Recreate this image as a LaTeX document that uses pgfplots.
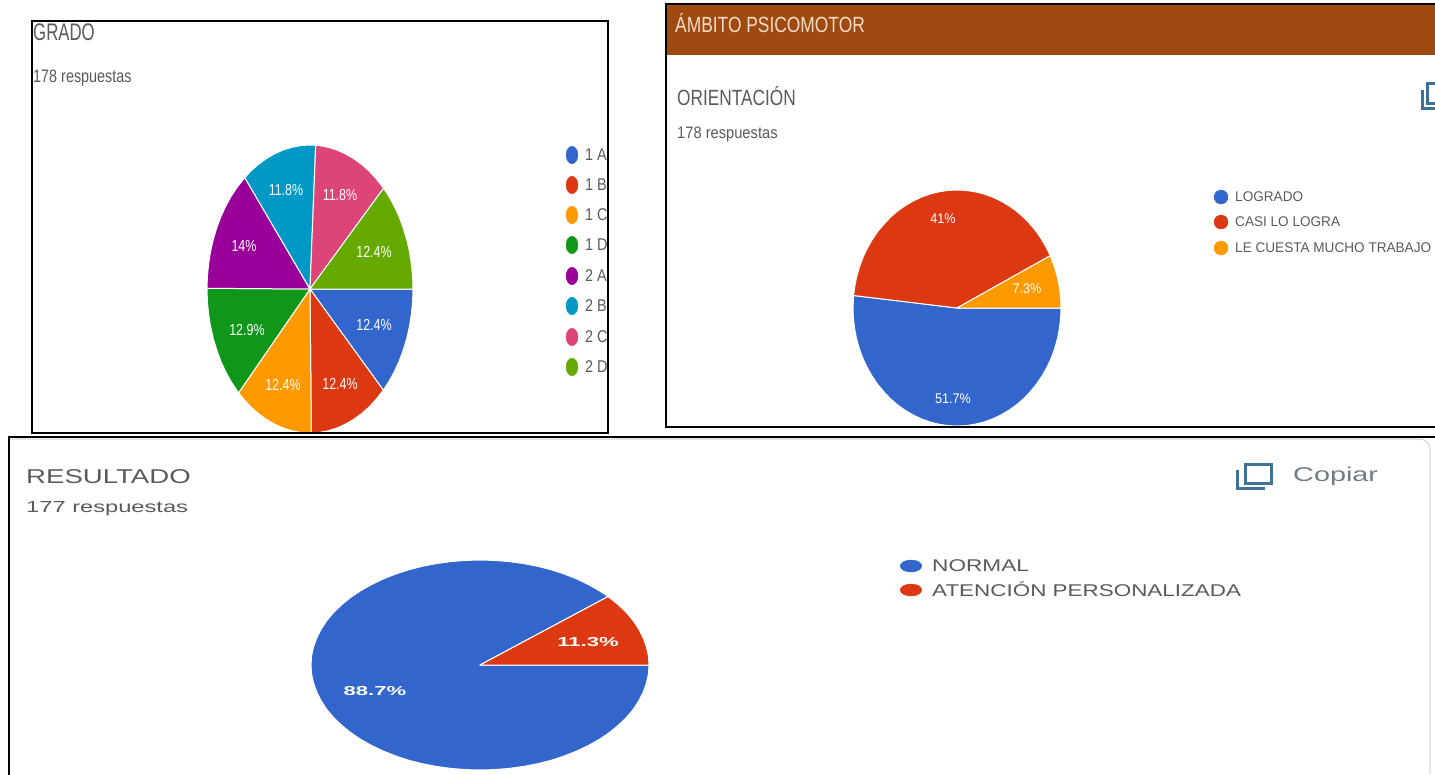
\documentclass[border=0pt]{standalone}
\usepackage{pgfplots}
\pgfplotsset{compat=1.18}
\usepackage{fontspec}
\setmainfont{Liberation Sans}
\definecolor{gblue}{HTML}{3366CC}
\definecolor{gred}{HTML}{DC3912}
\definecolor{gorange}{HTML}{FF9900}
\definecolor{ggreen}{HTML}{109618}
\definecolor{gpurple}{HTML}{990099}
\definecolor{gcyan}{HTML}{0099C6}
\definecolor{gpink}{HTML}{DD4477}
\definecolor{glime}{HTML}{66AA00}
\definecolor{hdr}{HTML}{9E4A10}
\definecolor{hdrtxt}{HTML}{F6DCC6}
\definecolor{gtxt}{HTML}{5A5A5A}
\definecolor{icon}{HTML}{3F7196}
% \lab{x}{y}{size}{xscale}{colour}{text}  left anchored
\newcommand{\lab}[6]{\node[anchor=west,inner sep=0pt,text=#5] at (axis cs:#1,#2) {\fontsize{#3}{#3}\selectfont\scalebox{#4}[1]{#6}};}
% centred
\newcommand{\cen}[6]{\node[anchor=center,inner sep=0pt,text=#5] at (axis cs:#1,#2) {\fontsize{#3}{#3}\selectfont\scalebox{#4}[1]{#6}};}
\begin{document}
\begin{tikzpicture}
\begin{axis}[
  name=ax,
  scale only axis, width=1435pt, height=774pt,
  xmin=0, xmax=1435, ymin=0, ymax=774, y dir=reverse,
  hide axis, clip=true]
\pgfplotsset{every axis plot/.append style={line join=round}}
\tikzset{slice/.style={draw=white,line width=1pt}}
% --- header of the second panel
\addplot[fill=hdr,draw=none] coordinates {(666,5)(1435,5)(1435,55)(666,55)} --cycle;

% --- GRADO pie (178 respuestas)
\addplot[slice,fill=gblue] coordinates {(310,289)(413,289)(412.6,301.6)(411.4,314)(409.5,326.3)(406.8,338.2)(403.3,349.9)(399.2,361)(394.4,371.6)(388.9,381.6)(383.3,390.1)} --cycle;
\addplot[slice,fill=gred] coordinates {(310,289)(383.3,390.1)(376.2,399.3)(369.1,407)(361.5,413.7)(353.5,419.5)(345.2,424.3)(336.7,428.1)(327.9,430.8)(319,432.5)(311.3,433)} --cycle;
\addplot[slice,fill=gorange] coordinates {(310,289)(311.3,433)(301,432.5)(292.1,430.8)(283.3,428.1)(274.8,424.3)(266.5,419.5)(258.5,413.7)(250.9,407)(243.8,399.3)(238.6,392.8)} --cycle;
\addplot[slice,fill=ggreen] coordinates {(310,289)(238.6,392.8)(231.1,381.6)(225.6,371.6)(220.8,361)(216.7,349.9)(213.2,338.2)(210.5,326.3)(208.6,314)(207.4,301.6)(207,289)(207,288.3)} --cycle;
\addplot[slice,fill=gpurple] coordinates {(310,289)(207,288.3)(207.4,276.4)(208.6,264)(210.5,251.7)(213.2,239.8)(216.7,228.1)(220.8,217)(225.6,206.4)(231.1,196.4)(237.2,187.2)(244.8,177.6)} --cycle;
\addplot[slice,fill=gcyan] coordinates {(310,289)(244.8,177.6)(250.9,171)(258.5,164.3)(266.5,158.5)(274.8,153.7)(283.3,149.9)(292.1,147.2)(301,145.5)(310,145)(315.7,145.2)} --cycle;
\addplot[slice,fill=gpink] coordinates {(310,289)(315.7,145.2)(319,145.5)(327.9,147.2)(336.7,149.9)(345.2,153.7)(353.5,158.5)(361.5,164.3)(369.1,171)(376.2,178.7)(383.6,188.2)} --cycle;
\addplot[slice,fill=glime] coordinates {(310,289)(383.6,188.2)(388.9,196.4)(394.4,206.4)(399.2,217)(403.3,228.1)(406.8,239.8)(409.5,251.7)(411.4,264)(412.6,276.4)(413,289)} --cycle;

% --- ORIENTACION pie
\addplot[slice,fill=gblue] coordinates {(957,308)(1061,308)(1060.6,318.3)(1059.4,328.5)(1057.5,338.5)(1054.7,348.4)(1051.3,357.9)(1047.1,367)(1042.2,375.7)(1036.7,383.9)(1030.5,391.4)(1023.9,398.4)(1016.7,404.7)(1009,410.2)(1001,414.9)(992.6,418.9)(983.9,422)(975.1,424.2)(966.1,425.6)(957,426)(947.9,425.6)(938.9,424.2)(930.1,422)(921.4,418.9)(913,414.9)(905,410.2)(897.3,404.7)(890.1,398.4)(883.5,391.4)(877.3,383.9)(871.8,375.7)(866.9,367)(862.7,357.9)(859.3,348.4)(856.5,338.5)(854.6,328.5)(853.4,318.3)(853,308)(853.6,295.5)} --cycle;
\addplot[slice,fill=gred] coordinates {(957,308)(853.6,295.5)(854.6,287.5)(856.5,277.5)(859.3,267.6)(862.7,258.1)(866.9,249)(871.8,240.3)(877.3,232.1)(883.5,224.6)(890.1,217.6)(897.3,211.3)(905,205.8)(913,201.1)(921.4,197.1)(930.1,194)(938.9,191.8)(947.9,190.4)(957,190)(966.1,190.4)(975.1,191.8)(983.9,194)(992.6,197.1)(1001,201.1)(1009,205.8)(1016.7,211.3)(1023.9,217.6)(1030.5,224.6)(1036.7,232.1)(1042.2,240.3)(1047.1,249)(1050.2,255.7)} --cycle;
\addplot[slice,fill=gorange] coordinates {(957,308)(1050.2,255.7)(1054.7,267.6)(1057.5,277.5)(1059.4,287.5)(1060.6,297.7)(1061,308)} --cycle;

% --- RESULTADO pie
\addplot[slice,fill=gblue] coordinates {(480,665)(649,665)(648.4,674.2)(646.4,683.2)(643.2,692.2)(638.8,700.9)(633.2,709.4)(626.4,717.5)(618.4,725.2)(609.5,732.5)(599.5,739.2)(588.6,745.4)(576.9,751)(564.5,755.9)(551.4,760.2)(537.8,763.7)(523.7,766.4)(509.3,768.4)(494.7,769.6)(480,770)(465.3,769.6)(450.7,768.4)(436.3,766.4)(422.2,763.7)(408.6,760.2)(395.5,755.9)(383.1,751)(371.4,745.4)(360.5,739.2)(350.5,732.5)(341.6,725.2)(333.6,717.5)(326.8,709.4)(321.2,700.9)(316.8,692.2)(313.6,683.2)(311.6,674.2)(311,665)(311.6,655.8)(313.6,646.8)(316.8,637.8)(321.2,629.1)(326.8,620.6)(333.6,612.5)(341.6,604.8)(350.5,597.5)(360.5,590.8)(371.4,584.6)(383.1,579)(395.5,574.1)(408.6,569.8)(422.2,566.3)(436.3,563.6)(450.7,561.6)(465.3,560.4)(480,560)(494.7,560.4)(509.3,561.6)(523.7,563.6)(537.8,566.3)(551.4,569.8)(564.5,574.1)(576.9,579)(588.6,584.6)(599.5,590.8)(608.1,596.5)} --cycle;
\addplot[slice,fill=gred] coordinates {(480,665)(608.1,596.5)(618.4,604.8)(626.4,612.5)(633.2,620.6)(638.8,629.1)(643.2,637.8)(646.4,646.8)(648.4,655.8)(649,665)} --cycle;

% --- legend markers
\addplot[only marks,mark=*,mark size=7pt,mark options={draw=gblue,fill=gblue,xscale=.85,yscale=1.25}] coordinates {(572,155)};
\addplot[only marks,mark=*,mark size=7pt,mark options={draw=gred,fill=gred,xscale=.85,yscale=1.25}] coordinates {(572,185)};
\addplot[only marks,mark=*,mark size=7pt,mark options={draw=gorange,fill=gorange,xscale=.85,yscale=1.25}] coordinates {(572,215)};
\addplot[only marks,mark=*,mark size=7pt,mark options={draw=ggreen,fill=ggreen,xscale=.85,yscale=1.25}] coordinates {(572,245)};
\addplot[only marks,mark=*,mark size=7pt,mark options={draw=gpurple,fill=gpurple,xscale=.85,yscale=1.25}] coordinates {(572,276)};
\addplot[only marks,mark=*,mark size=7pt,mark options={draw=gcyan,fill=gcyan,xscale=.85,yscale=1.25}] coordinates {(572,306)};
\addplot[only marks,mark=*,mark size=7pt,mark options={draw=gpink,fill=gpink,xscale=.85,yscale=1.25}] coordinates {(572,337)};
\addplot[only marks,mark=*,mark size=7pt,mark options={draw=glime,fill=glime,xscale=.85,yscale=1.25}] coordinates {(572,367)};
\addplot[only marks,mark=*,mark size=7pt,mark options={draw=gblue,fill=gblue}] coordinates {(1221,197)};
\addplot[only marks,mark=*,mark size=7pt,mark options={draw=gred,fill=gred}] coordinates {(1221,222)};
\addplot[only marks,mark=*,mark size=7pt,mark options={draw=gorange,fill=gorange}] coordinates {(1221,248)};
\addplot[only marks,mark=*,mark size=6pt,mark options={draw=gblue,fill=gblue,xscale=1.8}] coordinates {(911,566)};
\addplot[only marks,mark=*,mark size=6pt,mark options={draw=gred,fill=gred,xscale=1.8}] coordinates {(911,590)};

% --- slice labels
\cen{286}{190}{16}{.78}{white}{11.8\%}
\cen{340}{195}{16}{.78}{white}{11.8\%}
\cen{374}{252}{16}{.78}{white}{12.4\%}
\cen{374}{325}{16}{.78}{white}{12.4\%}
\cen{340}{384}{16}{.78}{white}{12.4\%}
\cen{283}{385}{16}{.78}{white}{12.4\%}
\cen{247}{330}{16}{.78}{white}{12.9\%}
\cen{244}{246}{16}{.78}{white}{14\%}
\cen{943}{219}{14}{.9}{white}{41\%}
\cen{1027}{289}{14}{.9}{white}{7.3\%}
\cen{953}{399}{14}{.9}{white}{51.7\%}
\cen{588}{642}{13}{1.7}{white}{\bfseries 11.3\%}
\cen{375}{691}{13}{1.7}{white}{\bfseries 88.7\%}

% --- titles and subtitles
\lab{33}{32}{24}{.7}{gtxt}{GRADO}
\lab{33}{78}{18}{.8}{gtxt}{178 respuestas}
\lab{675}{23}{22}{.79}{hdrtxt}{ÁMBITO PSICOMOTOR}
\lab{677}{96}{22}{.785}{gtxt}{ORIENTACIÓN}
\lab{677}{134}{16.5}{.89}{gtxt}{178 respuestas}
\lab{26}{477}{20}{1.38}{gtxt}{RESULTADO}
\lab{26}{509}{16}{1.48}{gtxt}{177 respuestas}
\lab{1293}{476}{20}{1.44}{gray!75!icon}{Copiar}

% --- legend texts
\lab{585}{155}{17}{.85}{gtxt}{1 A}
\lab{585}{185}{17}{.85}{gtxt}{1 B}
\lab{585}{215}{17}{.85}{gtxt}{1 C}
\lab{585}{245}{17}{.85}{gtxt}{1 D}
\lab{585}{276}{17}{.85}{gtxt}{2 A}
\lab{585}{306}{17}{.85}{gtxt}{2 B}
\lab{585}{337}{17}{.85}{gtxt}{2 C}
\lab{585}{367}{17}{.85}{gtxt}{2 D}
\lab{1235}{197}{14}{.97}{gtxt}{LOGRADO}
\lab{1235}{222}{14}{.97}{gtxt}{CASI LO LOGRA}
\lab{1235}{248}{14}{.97}{gtxt}{LE CUESTA MUCHO TRABAJO}
\lab{932}{566}{17}{1.33}{gtxt}{NORMAL}
\lab{932}{589}{17}{1.32}{gtxt}{ATENCIÓN PERSONALIZADA}

% --- copy icons
\draw[icon,line width=3pt] (axis cs:1427,83) rectangle (axis cs:1445,103);
\draw[icon,line width=3pt] (axis cs:1422,90) -- (axis cs:1422,108) -- (axis cs:1445,108);
\draw[icon,line width=3pt] (axis cs:1245,464) rectangle (axis cs:1271,483);
\draw[icon,line width=3pt] (axis cs:1237,470) -- (axis cs:1237,488) -- (axis cs:1265,488);

% --- frames
\fill[white] (axis cs:609,6) rectangle (axis cs:665,435);
\draw[black!15,line width=1.2pt] (axis cs:9,439) -- (axis cs:1420,439) arc[start angle=90,end angle=0,radius=10pt] -- (axis cs:1430,774);
\draw[black,line width=2pt] (axis cs:32,434) -- (axis cs:32,21) -- (axis cs:608,21) -- (axis cs:608,433) -- (axis cs:32,433);
\draw[black,line width=2pt] (axis cs:1436,4) -- (axis cs:666,4) -- (axis cs:666,427) -- (axis cs:1436,427);
\draw[black,line width=2pt] (axis cs:9,775) -- (axis cs:9,436.5) -- (axis cs:1436,436.5);
\end{axis}
\pgfresetboundingbox
\path[use as bounding box] (ax.south west) rectangle (ax.north east);
\end{tikzpicture}
\end{document}
